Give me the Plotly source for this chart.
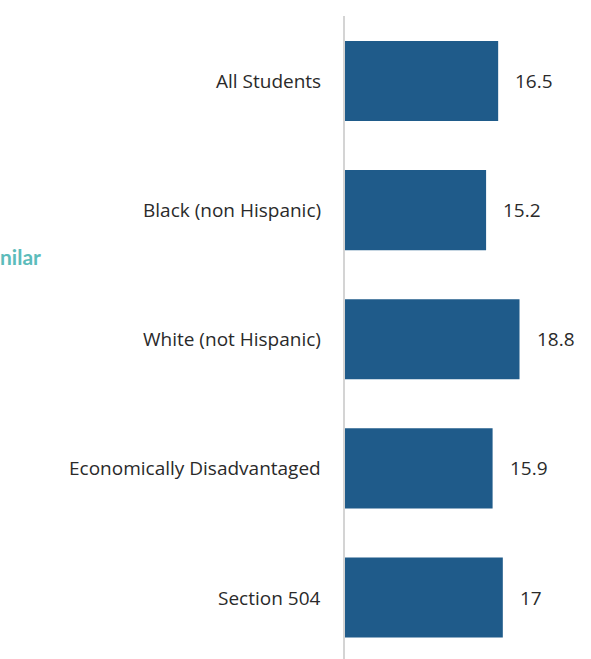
import plotly.graph_objects as go

# Student groups and their values
groups = [
    "All Students",
    "Black (non Hispanic)",
    "White (not Hispanic)",
    "Economically Disadvantaged",
    "Section 504",
]
values = [16.5, 15.2, 18.8, 15.9, 17]
value_labels = ["16.5", "15.2", "18.8", "15.9", "17"]

BAR_COLOR = "#1f5b8a"
TEXT_COLOR = "#2a2a2a"
FONT = "'Open Sans', Lato, sans-serif"

fig = go.Figure(
    go.Bar(
        x=values,
        y=groups,
        orientation="h",
        marker=dict(color=BAR_COLOR, line=dict(width=0)),
        width=0.62,
        hoverinfo="skip",
    )
)

annotations = []
for g, v, lab in zip(groups, values, value_labels):
    # category name to the left of the axis
    annotations.append(dict(
        x=0, y=g, xref="x", yref="y", text=g, showarrow=False,
        xanchor="right", yanchor="middle", xshift=-22,
        font=dict(family=FONT, size=19, color=TEXT_COLOR),
    ))
    # value label to the right of the bar
    annotations.append(dict(
        x=v, y=g, xref="x", yref="y", text=lab, showarrow=False,
        xanchor="left", yanchor="middle", xshift=15,
        font=dict(family=FONT, size=19, color=TEXT_COLOR),
    ))

# teal side heading at the left edge of the page
annotations.append(dict(
    x=-1.40, y=1.36, xref="paper", yref="y", text="<b>nilar</b>",
    showarrow=False, xanchor="left", yanchor="middle", xshift=-3,
    font=dict(family="Lato, 'Open Sans', sans-serif", size=21, color="#5cbcbb"),
))

fig.update_layout(
    width=591, height=659,
    margin=dict(l=345, r=0, t=16, b=0),
    paper_bgcolor="white", plot_bgcolor="white",
    showlegend=False,
    annotations=annotations,
    xaxis=dict(range=[0, 26.5], visible=False, fixedrange=True),
    yaxis=dict(
        range=[4.476, -0.503],
        showticklabels=False, ticks="",
        showgrid=False, zeroline=False,
        showline=True, linecolor="#d4d4d4", linewidth=1.5,
        fixedrange=True,
    ),
)

fig.write_html("out.html")
